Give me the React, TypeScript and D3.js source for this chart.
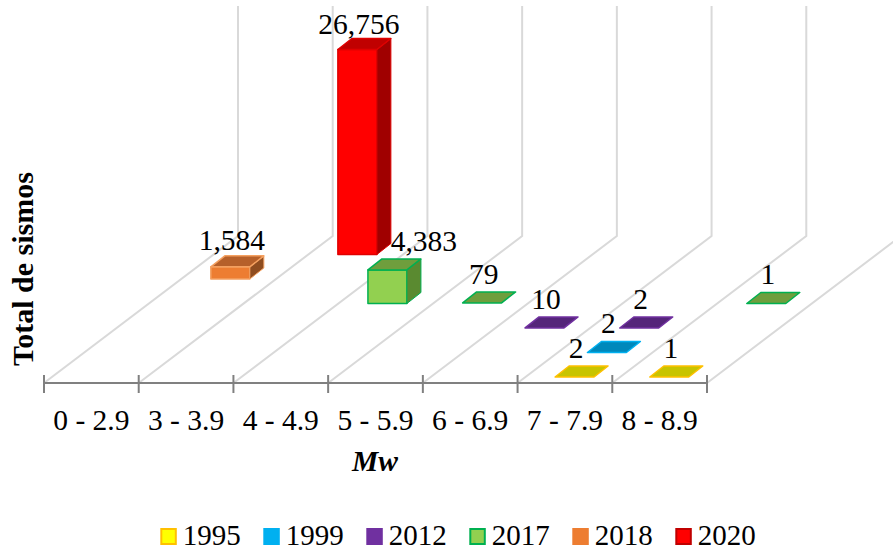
import React from "react";
import * as d3 from "d3";

const categories = ["0 - 2.9", "3 - 3.9", "4 - 4.9", "5 - 5.9", "6 - 6.9", "7 - 7.9", "8 - 8.9"];
const years = ["1995", "1999", "2012", "2017", "2018", "2020"];
const values1995 = [0, 0, 0, 0, 0, 2, 1];
const values1999 = [0, 0, 0, 0, 0, 2, 0];
const values2012 = [0, 0, 0, 0, 10, 2, 0];
const values2017 = [0, 0, 4383, 79, 0, 0, 1];
const values2018 = [1584, 0, 0, 0, 0, 0, 0];
const values2020 = [0, 26756, 0, 0, 0, 0, 0];
const seriesValues = [values1995, values1999, values2012, values2017, values2018, values2020];
const faceFill = ["#FFFF00", "#00B0F0", "#7030A0", "#92D050", "#ED7D31", "#FF0000"];
const faceStroke = ["#FFC000", "#00B0F0", "#7030A0", "#00B050", "#F4A060", "#E00000"];
const legendStroke = ["#FFC000", "#00B0F0", "#7030A0", "#00B050", "#ED7D31", "#C00000"];
const topFill = ["#C8C400", "#0088BB", "#55257A", "#6F9E3D", "#B6602A", "#C00000"];
const sideFill = ["#A8A400", "#007099", "#451E66", "#5A8A30", "#8F4D20", "#A00000"];

const FONT = "'Liberation Serif', 'Times New Roman', serif";
const floorY = 383;
const topY = 6;

const x = d3.scaleBand<string>().domain(categories).range([44, 707]);
const depthX = d3.scaleLinear().domain([0, 6]).range([0, 194]);
const depthY = d3.scaleLinear().domain([0, 6]).range([0, 147]);
const h = d3.scaleLinear().domain([0, 26756]).range([0, 205]);
const line = d3.line<[number, number]>();

const fmt = d3.format(",");

export default function App() {
  const step = x.step();
  const ticks = categories.map((c) => x(c)!).concat([707]);
  const barW = 39;
  const dpX = 14;
  const dpY = 11;
  const bars: any[] = [];
  seriesValues.forEach((vals, r) => {
    vals.forEach((v, c) => {
      if (v > 0) bars.push({ v, r, c });
    });
  });
  bars.sort((a, b) => b.r - a.r || a.c - b.c);
  return (
    <svg width={893} height={552} style={{ position: "absolute", left: 0, top: 0, background: "#fff" }} fontFamily={FONT}>
      {ticks.map((t, i) => {
        const bx = t + depthX(6);
        const by = floorY - depthY(6);
        return (
          <g key={i} fill="none" stroke="#D9D9D9" strokeWidth={2}>
            <path d={line([[t, floorY], [bx, by], [bx, topY]])!} />
          </g>
        );
      })}
      <line x1={44} x2={707} y1={floorY} y2={floorY} stroke="#808080" strokeWidth={2} />
      {ticks.map((t, i) => (
        <line key={i} x1={t} x2={t} y1={375} y2={393} stroke="#808080" strokeWidth={2} />
      ))}
      {bars.map((b, i) => {
        const x0 = x(categories[b.c])! + 37.5 + depthX(b.r);
        const y0 = floorY - 6 - depthY(b.r);
        const ht = h(b.v);
        const yt = y0 - ht;
        const p = (pts: [number, number][]) => line(pts)! + "Z";
        const isFlat = ht < 3;
        return (
          <g key={i} strokeLinejoin="round">
            {!isFlat && (
              <path d={p([[x0, y0], [x0 + barW, y0], [x0 + barW, yt], [x0, yt]])} fill={faceFill[b.r]} stroke={faceStroke[b.r]} strokeWidth={1.5} />
            )}
            {!isFlat && (
              <path d={p([[x0 + barW, y0], [x0 + barW + dpX, y0 - dpY], [x0 + barW + dpX, yt - dpY], [x0 + barW, yt]])} fill={sideFill[b.r]} stroke={faceStroke[b.r]} strokeWidth={1} />
            )}
            <path d={p([[x0, yt], [x0 + dpX, yt - dpY], [x0 + barW + dpX, yt - dpY], [x0 + barW, yt]])} fill={topFill[b.r]} stroke={faceStroke[b.r]} strokeWidth={1.5} />
          </g>
        );
      })}
      {bars.map((b, i) => {
        const x0 = x(categories[b.c])! + 37.5 + depthX(b.r);
        const yt = floorY - 6 - depthY(b.r) - h(b.v);
        const shift = b.v === 4383 ? [35, 0] : b.v === 26756 ? [0, 3] : b.v === 1584 ? [0, 2] : [0, 0];
        return (
          <text key={i} x={x0 + 21 + shift[0]} y={yt - 19 + shift[1]} textAnchor="middle" fontSize={29.5} fill="#000">
            {fmt(b.v)}
          </text>
        );
      })}
      {categories.map((c) => (
        <text key={c} x={x(c)! + step / 2} y={430} textAnchor="middle" fontSize={29.5} fill="#000">
          {c}
        </text>
      ))}
      <text x={352} y={470.5} fontSize={29.5} fontWeight="bold" fontStyle="italic">Mw</text>
      <text transform="translate(33,269) rotate(-90)" textAnchor="middle" fontSize={30} fontWeight="bold">Total de sismos</text>
      {years.map((y, i) => {
        const lx = 161.3 + i * 103;
        return (
          <g key={y}>
            <rect x={lx} y={529} width={14.5} height={15} fill={faceFill[i]} stroke={legendStroke[i]} strokeWidth={2} />
            <text x={lx + 21.5} y={545} fontSize={29} fill="#000">{y}</text>
          </g>
        );
      })}
    </svg>
  );
}
